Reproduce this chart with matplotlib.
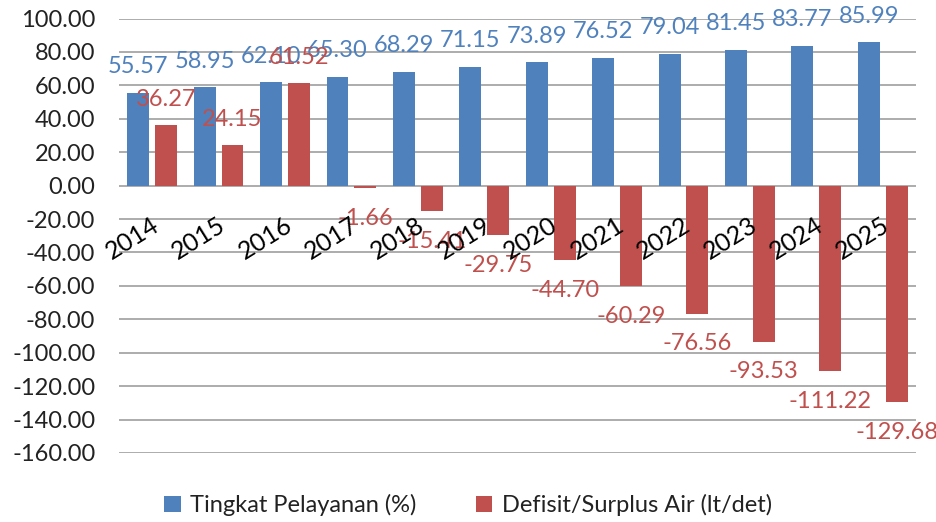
import matplotlib.pyplot as plt
import numpy as np

plt.rcParams['font.family'] = ['Lato', 'DejaVu Sans']

# Data
years = ["2014", "2015", "2016", "2017", "2018", "2019",
         "2020", "2021", "2022", "2023", "2024", "2025"]
pelayanan = [55.57, 58.95, 62.10, 65.30, 68.29, 71.15,
             73.89, 76.52, 79.04, 81.45, 83.77, 85.99]
defisit = [36.27, 24.15, 61.52, -1.66, -15.41, -29.75,
           -44.70, -60.29, -76.56, -93.53, -111.22, -129.68]

blue = "#4F81BD"
red = "#C0504D"

fig = plt.figure(figsize=(9.36, 5.22), dpi=100)
ax = fig.add_axes([0.1271, 0.1322, 0.8515, 0.8323])

x = np.arange(len(years))
width = 0.33
off = 0.21

b1 = ax.bar(x - off, pelayanan, width, color=blue, label="Tingkat Pelayanan (%)", zorder=3)
b2 = ax.bar(x + off, defisit, width, color=red, label="Defisit/Surplus Air (lt/det)", zorder=3)

# Value labels
for xi, v in zip(x - off, pelayanan):
    ax.annotate(f"{v:.2f}", (xi, v), xytext=(0, 11), textcoords="offset points",
                ha="center", va="bottom", color=blue, fontsize=17, zorder=4)
for xi, v in zip(x + off, defisit):
    if v >= 0:
        ax.annotate(f"{v:.2f}", (xi, v), xytext=(0, 11), textcoords="offset points",
                    ha="center", va="bottom", color=red, fontsize=17, zorder=4)
    else:
        ax.annotate(f"{v:.2f}", (xi, v), xytext=(0, -14), textcoords="offset points",
                    ha="center", va="top", color=red, fontsize=17, zorder=4)

# Rotated year labels just below the zero line
for xi, yr in zip(x, years):
    ax.annotate(yr, (xi, 0), xytext=(-1, -20), textcoords="offset points",
                ha="right", va="top", rotation=32, rotation_mode="anchor",
                fontsize=18, color="black", zorder=5)

ax.set_xlim(-0.5, len(years) - 0.5)
ax.set_ylim(-160, 100)
ax.set_yticks(np.arange(-160, 101, 20))
ax.set_yticklabels([f"{t:.2f}" for t in np.arange(-160, 101, 20)])
ax.set_xticks([])
ax.tick_params(axis="y", length=0, pad=17, labelsize=17, labelcolor="#222222")

ax.grid(axis="y", color="#A6A6A6", linewidth=1.3, zorder=0)
for s in ax.spines.values():
    s.set_visible(False)

fig.legend(handles=[b1, b2], loc="center", bbox_to_anchor=(0.5, 0.032), ncol=2,
           frameon=False, fontsize=17, handlelength=0.7, handleheight=0.7,
           handletextpad=0.4, columnspacing=2.5, labelcolor="#222222")

fig.savefig("out.png", dpi=100)
